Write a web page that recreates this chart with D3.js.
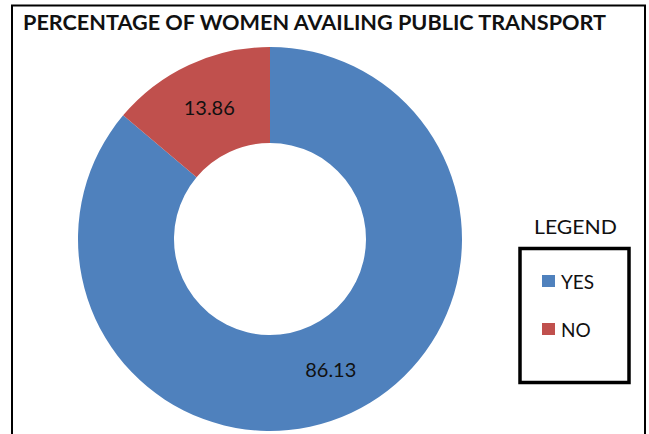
<!DOCTYPE html>
<html>
<head>
<meta charset="utf-8">
<script src="https://cdn.jsdelivr.net/npm/d3@7"></script>
<style>
  body { margin: 0; background: #fff; }
  text { font-family: Lato, "Open Sans", sans-serif; }
</style>
</head>
<body>
<div id="chart"></div>
<script>
// data
var categories = ["YES", "NO"];
var values = [86.13, 13.86];
var colors = ["#4F81BD", "#C0504D"];
var chartTitle = "PERCENTAGE OF WOMEN AVAILING PUBLIC TRANSPORT";
var legendTitle = "LEGEND";

var width = 649, height = 434;

var svg = d3.select("#chart").append("svg")
  .attr("width", width)
  .attr("height", height);

// outer frame (bottom runs off the picture)
svg.append("rect")
  .attr("x", 12).attr("y", 5.5)
  .attr("width", 633).attr("height", 450)
  .attr("fill", "none")
  .attr("stroke", "#000")
  .attr("stroke-width", 2);

svg.append("text")
  .attr("x", 23).attr("y", 30)
  .style("font-size", "21px")
  .style("font-weight", "bold")
  .style("fill", "#111")
  .attr("textLength", 583)
  .attr("lengthAdjust", "spacingAndGlyphs")
  .text(chartTitle);

var data = categories.map(function (c, i) { return { name: c, value: values[i] }; });

var pie = d3.pie().sort(null).value(function (d) { return d.value; });
var outerR = 192, innerR = 96;
var arc = d3.arc().innerRadius(innerR).outerRadius(outerR);
var color = d3.scaleOrdinal().domain(categories).range(colors);

var g = svg.append("g").attr("transform", "translate(270,239)");

g.selectAll("path")
  .data(pie(data))
  .enter().append("path")
  .attr("d", arc)
  .attr("fill", function (d) { return color(d.data.name); });

g.selectAll("text.lbl")
  .data(pie(data))
  .enter().append("text")
  .attr("class", "lbl")
  .attr("transform", function (d) { return "translate(" + arc.centroid(d) + ")"; })
  .attr("text-anchor", "middle")
  .attr("dy", "0.35em")
  .style("font-size", "20px")
  .style("fill", "#111")
  .text(function (d) { return d.data.value.toFixed(2); });

// legend
svg.append("text")
  .attr("x", 575.5).attr("y", 234)
  .attr("text-anchor", "middle")
  .style("font-size", "20px")
  .style("fill", "#111")
  .attr("textLength", 83)
  .attr("lengthAdjust", "spacingAndGlyphs")
  .text(legendTitle);

svg.append("rect")
  .attr("x", 520).attr("y", 248.5)
  .attr("width", 109).attr("height", 134)
  .attr("fill", "none")
  .attr("stroke", "#000")
  .attr("stroke-width", 3.5);

var leg = svg.selectAll("g.leg")
  .data(data)
  .enter().append("g")
  .attr("class", "leg")
  .attr("transform", function (d, i) { return "translate(542," + (275 + i * 48) + ")"; });

leg.append("rect")
  .attr("width", 13).attr("height", 12)
  .attr("fill", function (d) { return color(d.name); });

leg.append("text")
  .attr("x", 19).attr("y", 13.5)
  .style("font-size", "19px")
  .style("fill", "#111")
  .text(function (d) { return d.name; });
</script>
</body>
</html>
